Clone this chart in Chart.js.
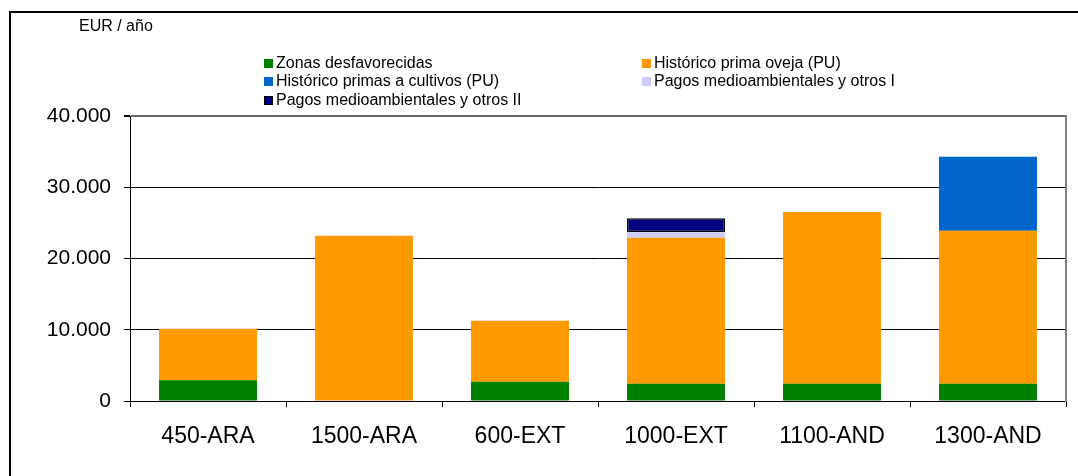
<!DOCTYPE html>
<html>
<head>
<meta charset="utf-8">
<script src="https://cdn.jsdelivr.net/npm/chart.js@4/dist/chart.umd.min.js"></script>
<style>
  html, body { margin: 0; padding: 0; background: #fff; }
  #wrap { position: relative; width: 1078px; height: 476px; overflow: hidden; font-family: "Liberation Sans", Arial, sans-serif; }
  #frame { position: absolute; left: 9px; top: 11px; width: 2000px; height: 2000px; border: 2px solid #000; box-sizing: border-box; }
  #c { position: absolute; left: 0; top: 0; }
  #unit { position: absolute; left: 79px; top: 17px; font-size: 16px; color: #000; }
  .leg { position: absolute; font-size: 16px; color: #000; white-space: nowrap; line-height: 18px; }
  .leg i { position: absolute; width: 9px; height: 9px; top: 5px; box-sizing: border-box; }
  .leg span { position: absolute; left: 12px; top: 0; }
</style>
</head>
<body>
<div id="wrap">
  <div id="frame"></div>
  <canvas id="c" width="1078" height="476"></canvas>
  <div id="unit">EUR / año</div>
  <div id="legend"></div>
</div>
<script>
const categories = ["450-ARA", "1500-ARA", "600-EXT", "1000-EXT", "1100-AND", "1300-AND"];
const seriesNames = ["Zonas desfavorecidas", "Histórico prima oveja (PU)", "Histórico primas a cultivos (PU)", "Pagos medioambientales y otros I", "Pagos medioambientales y otros II"];
const zonasDesfavorecidas = [2900, 0, 2700, 2420, 2420, 2420];
const primaOveja = [7230, 23200, 8550, 20480, 24100, 21480];
const primasCultivos = [null, null, null, null, null, 10370];
const pagosMedioambientalesI = [null, null, null, 770, null, null];
const pagosMedioambientalesII = [null, null, null, 1980, null, null];
const yTicks = [0, 10000, 20000, 30000, 40000];

const colors = ["#008000", "#FF9900", "#0066CC", "#CCCCFF", "#000080"];
const seriesData = [zonasDesfavorecidas, primaOveja, primasCultivos, pagosMedioambientalesI, pagosMedioambientalesII];

// legend (two columns)
const legendPos = [
  {x: 264, y: 53.5}, {x: 642, y: 53.5},
  {x: 264, y: 72}, {x: 642, y: 72},
  {x: 264, y: 90.5}
];
const legendEl = document.getElementById('legend');
seriesNames.forEach((n, i) => {
  const d = document.createElement('div');
  d.className = 'leg';
  d.style.left = legendPos[i].x + 'px';
  d.style.top = legendPos[i].y + 'px';
  const sq = document.createElement('i');
  sq.style.background = colors[i];
  if (i === 4) sq.style.border = '1.5px solid #000';
  const t = document.createElement('span');
  t.textContent = n;
  d.appendChild(sq); d.appendChild(t);
  legendEl.appendChild(d);
});

const fmt = v => String(v).replace(/\B(?=(\d{3})+(?!\d))/g, '.');

const borderPlugin = {
  id: 'plotBorder',
  afterDraw(chart) {
    const {ctx, chartArea: a} = chart;
    ctx.save();
    ctx.strokeStyle = '#808080';
    ctx.lineWidth = 2;
    ctx.beginPath();
    ctx.moveTo(a.right, a.top - 1);
    ctx.lineTo(a.right, a.bottom + 1);
    ctx.stroke();
    ctx.restore();
  }
};

new Chart(document.getElementById('c'), {
  type: 'bar',
  data: {
    labels: categories,
    datasets: seriesData.map((d, i) => ({
      label: seriesNames[i],
      data: d,
      backgroundColor: colors[i],
      borderColor: '#000',
      borderWidth: i === 4 ? 1.5 : 0,
      borderSkipped: false,
      barPercentage: 0.628,
      categoryPercentage: 1.0
    }))
  },
  options: {
    responsive: false,
    animation: false,
    devicePixelRatio: 1,
    layout: { padding: { left: 0, top: 116, right: 12, bottom: 0 } },
    plugins: { legend: { display: false }, tooltip: { enabled: false } },
    scales: {
      x: {
        stacked: true,
        afterFit(s) { s.height = 75; },
        grid: { drawOnChartArea: false, drawTicks: true, tickLength: 6, tickColor: '#000', offset: true },
        border: { display: true, color: '#000', width: 1 },
        ticks: { color: '#000', font: { family: 'Liberation Sans, Arial', size: 23 }, padding: 16, maxRotation: 0 }
      },
      y: {
        stacked: true,
        min: 0, max: 40000,
        afterFit(s) { s.width = 130; },
        afterBuildTicks(s) { s.ticks = yTicks.map(v => ({value: v})); },
        grid: {
          color: c => (c.tick && c.tick.value === 40000) ? '#666' : '#000',
          lineWidth: c => (c.tick && c.tick.value === 40000) ? 2 : 1,
          drawTicks: true, tickLength: 6, tickColor: '#000'
        },
        border: { display: true, color: '#000', width: 1 },
        ticks: { color: '#000', font: { family: 'Liberation Sans, Arial', size: 21 }, padding: 13, callback: v => fmt(v) }
      }
    }
  },
  plugins: [borderPlugin]
});
</script>
</body>
</html>
